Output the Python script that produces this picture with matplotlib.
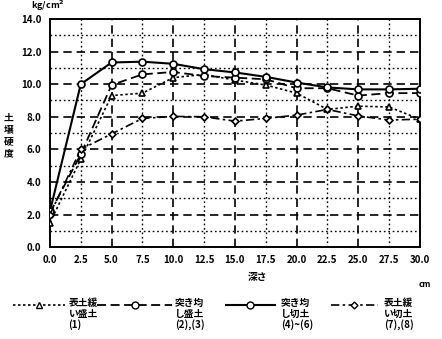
import numpy as np
import matplotlib
matplotlib.use("Agg")
import matplotlib.pyplot as plt
from matplotlib.lines import Line2D
from matplotlib.ticker import MultipleLocator

plt.rcParams['font.family'] = ['Noto Sans CJK JP', 'DejaVu Sans']
plt.rcParams['font.weight'] = 'bold'

# depth [cm] and soil hardness [kg/cm2]
depth = [0.0, 2.5, 5.0, 7.5, 10.0, 12.5, 15.0, 17.5, 20.0, 22.5, 25.0, 27.5, 30.0]
loose_fill = [1.5, 5.4, 9.3, 9.45, 10.4, 10.6, 10.25, 9.95, 9.45, 8.45, 8.65, 8.6, 7.85]
tamped_fill = [2.1, 5.7, 9.95, 10.6, 10.75, 10.5, 10.4, 10.3, 9.75, 9.75, 9.3, 9.45, 9.45]
tamped_cut = [2.2, 10.0, 11.33, 11.38, 11.25, 10.92, 10.72, 10.45, 10.1, 9.8, 9.68, 9.68, 9.72]
loose_cut = [2.0, 6.0, 6.95, 7.9, 8.02, 8.0, 7.73, 7.9, 8.1, 8.45, 8.05, 7.8, 7.85]

labels = ["表土緩\nい盛土\n(1)", "突き均\nし盛土\n(2),(3)", "突き均\nし切土\n(4)~(6)", "表土緩\nい切土\n(7),(8)"]
xticks = ["0.0", "2.5", "5.0", "7.5", "10.0", "12.5", "15.0", "17.5", "20.0", "22.5", "25.0", "27.5", "30.0"]

styles = [
    dict(ls=(0, (1.5, 1.5)), marker='^', ms=4.5, lw=1.2),
    dict(ls=(0, (5, 2.5)), marker='o', ms=5, lw=1.3),
    dict(ls='-', marker='o', ms=5, lw=1.5),
    dict(ls=(0, (5, 2, 1.5, 2)), marker='D', ms=3.5, lw=1.2),
]
series = [loose_fill, tamped_fill, tamped_cut, loose_cut]

fig = plt.figure(figsize=(4.42, 3.39), dpi=100)
ax = fig.add_axes([0.113, 0.271, 0.837, 0.673])

for ys, st in zip(series, styles):
    ax.plot(depth, ys, color='black', mfc='white', mec='black', mew=1.2, **st, zorder=3)

ax.set_xlim(0, 30)
ax.set_ylim(0, 14)
ax.set_xticks(depth)
ax.set_xticklabels(xticks)
ax.yaxis.set_major_locator(MultipleLocator(2))
ax.yaxis.set_major_formatter(plt.FuncFormatter(lambda v, p: "%.1f" % v))
ax.yaxis.set_minor_locator(MultipleLocator(1))
ax.tick_params(length=0, labelsize=7, pad=6)
ax.tick_params(which='minor', length=0)
for t in ax.get_xticklabels() + ax.get_yticklabels():
    t.set_fontweight('bold')

# grid: dashed at major, dotted at minor
for v in range(2, 14, 2):
    ax.axhline(v, color='black', ls=(0, (5, 3)), lw=1.2, zorder=1)
for v in range(1, 14, 2):
    ax.axhline(v, color='black', ls=(0, (1.2, 2)), lw=1.0, zorder=1)
for v in [5, 10, 15, 20, 25]:
    ax.axvline(v, color='black', ls=(0, (5, 3)), lw=1.2, zorder=1)
for v in [2.5, 7.5, 12.5, 17.5, 22.5, 27.5]:
    ax.axvline(v, color='black', ls=(0, (1.2, 2)), lw=1.0, zorder=1)
for s in ax.spines.values():
    s.set_linewidth(1.4)

fig.text(0.07, 0.982, "kg/cm$^2$", fontsize=6.5, fontweight='bold', ha='left', va='center')
fig.text(0.02, 0.6, "土\n壌\n硬\n度", fontsize=7, fontweight='bold', ha='center', va='center', linespacing=1.25)
fig.text(0.583, 0.183, "深さ", fontsize=7, fontweight='bold', ha='center', va='center')
fig.text(0.962, 0.162, "cm", fontsize=6, fontweight='bold', ha='center', va='center')

# legend drawn below the axes
leg_lines = [(0.03, 0.147), (0.22, 0.39), (0.511, 0.622), (0.749, 0.855)]
leg_text = [0.155, 0.396, 0.636, 0.869]
ly = 0.1
for (x0, x1), tx, lab, st in zip(leg_lines, leg_text, labels, styles):
    fig.add_artist(Line2D([x0, x1], [ly, ly], color='black', ls=st['ls'], lw=st['lw'],
                          transform=fig.transFigure))
    fig.add_artist(Line2D([(x0 + x1) / 2], [ly], color='black', marker=st['marker'],
                          ms=st['ms'], mfc='white', mec='black', mew=1.0, ls='none',
                          transform=fig.transFigure))
    fig.text(tx, ly + 0.02, lab, fontsize=7, fontweight='bold', ha='left', va='top', linespacing=1.05)

fig.savefig("out.png", dpi=100)
